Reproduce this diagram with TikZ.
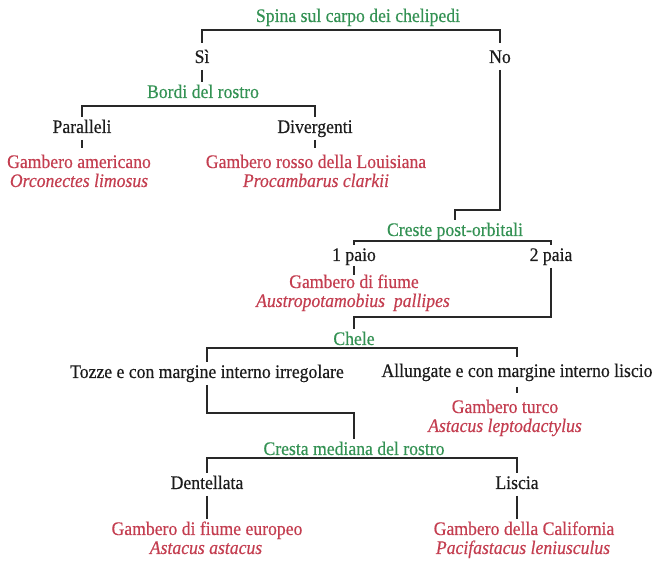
\documentclass[tikz,border=0pt]{standalone}
\usepackage{fontspec}
\setmainfont{Liberation Serif}[FakeStretch=0.92, FakeBold=0.4]
\definecolor{grn}{RGB}{52,146,84}
\definecolor{rd}{RGB}{196,62,80}
\definecolor{ink}{RGB}{28,28,28}
\definecolor{linec}{RGB}{40,40,40}
\begin{document}
\begin{tikzpicture}[x=1pt,y=-1pt,
  lbl/.style={anchor=base, inner sep=0pt, outer sep=0pt, text height=16pt, text depth=7pt,
    font=\fontsize{19.2}{20}\selectfont},
  keytxt/.style={lbl, text=grn},
  opttxt/.style={lbl, text=ink},
  spctxt/.style={lbl, text=rd},
  lattxt/.style={lbl, text=rd, font=\fontsize{19.2}{20}\selectfont\itshape},
  conn/.style={draw=linec, line width=1.2pt}
]
\path[fill=white] (0,0) rectangle (657,558);
% nodes
\node[keytxt] (spina) at (358,22) {Spina sul carpo dei chelipedi};
\node[opttxt] (si) at (202,63) {Sì};
\node[opttxt] (no) at (500,63) {No};
\node[keytxt] (bordi) at (203,98) {Bordi del rostro};
\node[opttxt] (par) at (82,133) {Paralleli};
\node[opttxt] (div) at (315,133) {Divergenti};
\node[spctxt] (gam) at (79,168) {Gambero americano};
\node[lattxt] (orc) at (79,187) {Orconectes limosus};
\node[spctxt] (gro) at (316,168) {Gambero rosso della Louisiana};
\node[lattxt] (pro) at (316,187) {Procambarus clarkii};
\node[keytxt] (creste) at (455,236) {Creste post-orbitali};
\node[opttxt] (p1) at (354,261) {1 paio};
\node[opttxt] (p2) at (551,261) {2 paia};
\node[spctxt] (gdf) at (354,288) {Gambero di fiume};
\node[lattxt] (aus) at (353,307) {Austropotamobius\ \ pallipes};
\node[keytxt] (chele) at (354,345) {Chele};
\node[opttxt] (toz) at (207,378) {Tozze e con margine interno irregolare};
\node[opttxt] (all) at (517,377) {Allungate e con margine interno liscio};
\node[spctxt] (tur) at (505,413) {Gambero turco};
\node[lattxt] (lep) at (505,432) {Astacus leptodactylus};
\node[keytxt] (cresta) at (354,455) {Cresta mediana del rostro};
\node[opttxt] (den) at (207,489) {Dentellata};
\node[opttxt] (lis) at (517,489) {Liscia};
\node[spctxt] (eur) at (207,535) {Gambero di fiume europeo};
\node[lattxt] (ast) at (206,554) {Astacus astacus};
\node[spctxt] (cal) at (524,535) {Gambero della California};
\node[lattxt] (pac) at (523,554) {Pacifastacus leniusculus};
% bar coordinates
\coordinate (b1) at (358,30);
\coordinate (b2) at (200,106);
\coordinate (b3) at (480,210);
\coordinate (b4) at (450,241);
\coordinate (b5) at (450,317);
\coordinate (b6) at (360,348);
\coordinate (b7) at (280,413);
\coordinate (b8) at (360,458);
% connectors
\draw[conn, shorten <=4pt, shorten >=4pt] (si.north) |- (b1) -| (no.north);
\draw[conn] (si.south) -- (si.south |- bordi.north);
\draw[conn] (par.north) |- (b2) -| (div.north);
\draw[conn, shorten >=4pt] (par.south) -- (par.south |- gam.north);
\draw[conn, shorten >=4pt] (div.south) -- (div.south |- gro.north);
\draw[conn] (no.south) |- (b3) -| (creste.north);
\draw[conn] (p1.north) |- (b4) -| (p2.north);
\draw[conn, shorten <=-2pt, shorten >=-3pt] (p1.south) -- (p1.south |- gdf.north);
\draw[conn] (p2.south) |- (b5) -| (chele.north);
\draw[conn, shorten >=4pt] (toz.north) |- (b6) -| (all.north);
\draw[conn, shorten <=3pt, shorten >=4pt] (all.south) -- (all.south |- tur.north);
\draw[conn] (toz.south) |- (b7) -| (cresta.north);
\draw[conn] (den.north) |- (b8) -| (lis.north);
\draw[conn] (den.south) -- (den.south |- eur.north);
\draw[conn] (lis.south) -- (lis.south |- cal.north);
\end{tikzpicture}
\end{document}
